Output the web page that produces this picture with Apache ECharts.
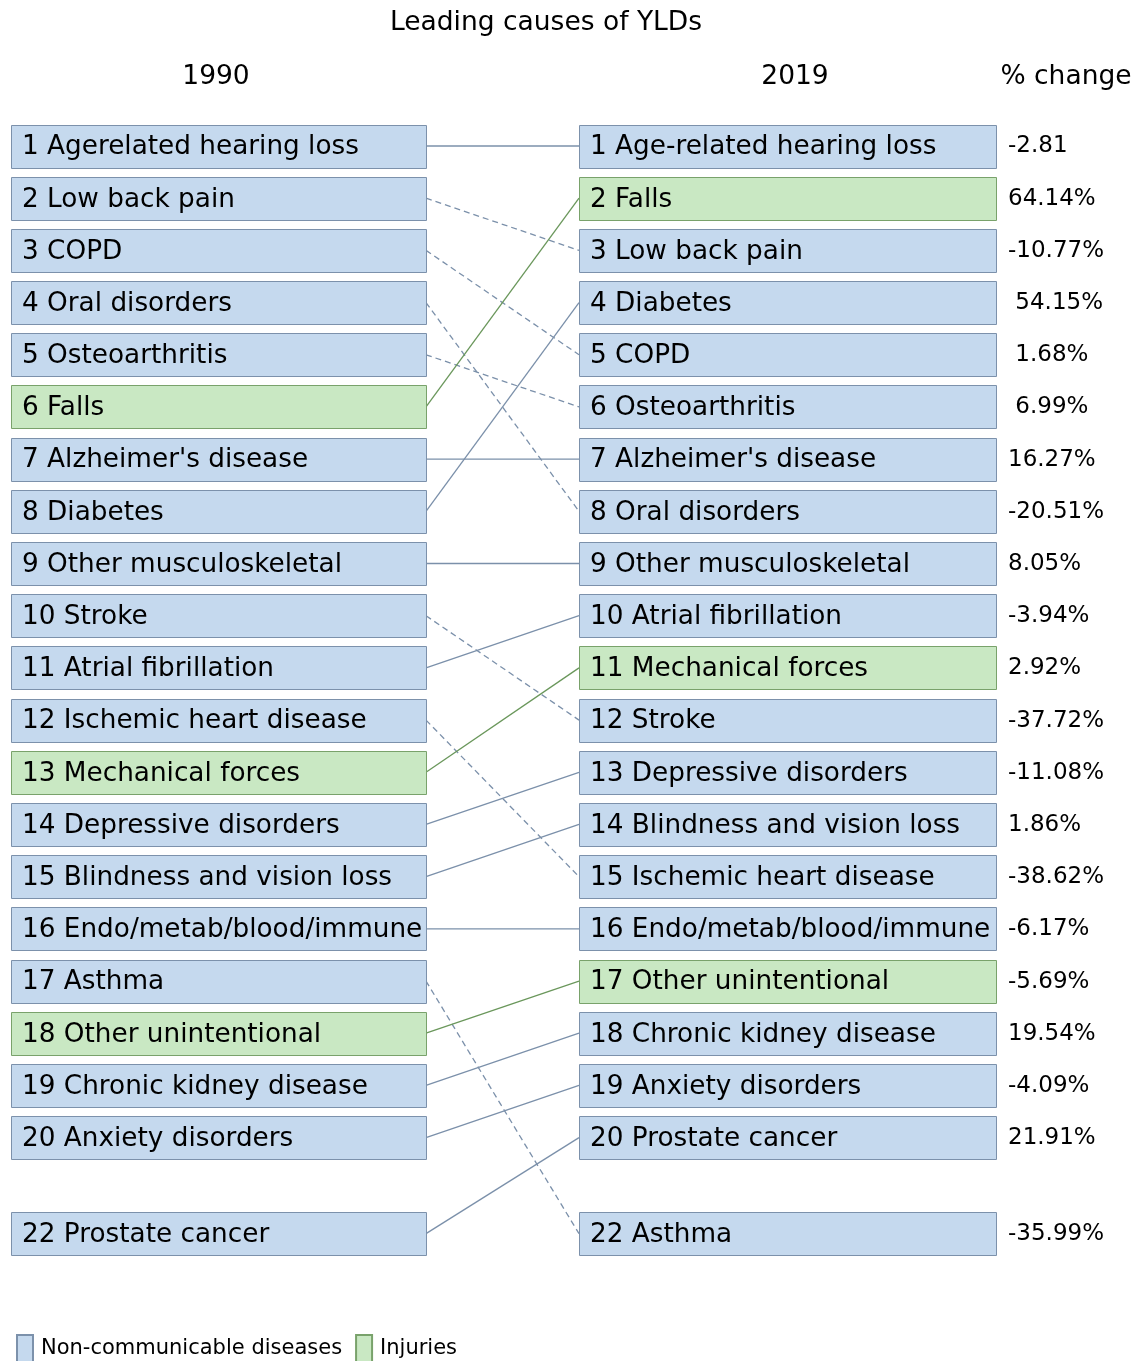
<!DOCTYPE html>
<html>
<head>
<meta charset="utf-8">
<script src="https://cdn.jsdelivr.net/npm/echarts@6/dist/echarts.min.js"></script>
<style>
  html, body { margin: 0; padding: 0; background: #fff; }
  #chart { width: 1148px; height: 1361px; }
</style>
</head>
<body>
<div id="chart"></div>
<script>
// ranking data, 1990 and 2019
const causes1990 = ['Agerelated hearing loss', 'Low back pain', 'COPD', 'Oral disorders', 'Osteoarthritis', 'Falls',
  "Alzheimer's disease", 'Diabetes', 'Other musculoskeletal', 'Stroke', 'Atrial fibrillation', 'Ischemic heart disease',
  'Mechanical forces', 'Depressive disorders', 'Blindness and vision loss', 'Endo/metab/blood/immune', 'Asthma',
  'Other unintentional', 'Chronic kidney disease', 'Anxiety disorders', 'Prostate cancer']
const ranks1990 = [1, 2, 3, 4, 5, 6, 7, 8, 9, 10, 11, 12, 13, 14, 15, 16, 17, 18, 19, 20, 22]

const causes2019 = ['Age-related hearing loss', 'Falls', 'Low back pain', 'Diabetes', 'COPD', 'Osteoarthritis',
  "Alzheimer's disease", 'Oral disorders', 'Other musculoskeletal', 'Atrial fibrillation', 'Mechanical forces', 'Stroke',
  'Depressive disorders', 'Blindness and vision loss', 'Ischemic heart disease', 'Endo/metab/blood/immune',
  'Other unintentional', 'Chronic kidney disease', 'Anxiety disorders', 'Prostate cancer', 'Asthma']
const ranks2019 = [1, 2, 3, 4, 5, 6, 7, 8, 9, 10, 11, 12, 13, 14, 15, 16, 17, 18, 19, 20, 22]
const pctChange = ['-2.81', '64.14%', '-10.77%', ' 54.15%', ' 1.68%', ' 6.99%', '16.27%', '-20.51%', '8.05%', '-3.94%',
  '2.92%', '-37.72%', '-11.08%', '1.86%', '-38.62%', '-6.17%', '-5.69%', '19.54%', '-4.09%', '21.91%', '-35.99%']

const injuries = ['Falls', 'Mechanical forces', 'Other unintentional']
const headers = ['1990', '2019', '% change']

// layout
const LEFT_X0 = 11, LEFT_X1 = 426
const RIGHT_X0 = 579, RIGHT_X1 = 996
const PCT_X = 1008
const BOX_H = 43
const FONT = 'DejaVu Sans'

const NCD = { fill: '#c5d9ee', stroke: '#7c91ab', line: '#7b90aa' }
const INJ = { fill: '#c9e8c3', stroke: '#79a26b', line: '#6a975b' }

const key = s => s.replace(/-/g, '').toLowerCase()
const isInjury = name => injuries.includes(name)
// rows past 20 sit a little closer than a full step
const slot = r => (r <= 20 ? r : 20 + (r - 20) * 0.92)

const boxes = { ncd: [], inj: [] }
causes1990.forEach((c, i) => {
  boxes[isInjury(c) ? 'inj' : 'ncd'].push({ value: [LEFT_X0, slot(ranks1990[i]), LEFT_X1], label: ranks1990[i] + ' ' + c })
})
causes2019.forEach((c, i) => {
  boxes[isInjury(c) ? 'inj' : 'ncd'].push({ value: [RIGHT_X0, slot(ranks2019[i]), RIGHT_X1], label: ranks2019[i] + ' ' + c, pct: pctChange[i] })
})

const links = causes1990.map((c, i) => {
  const j = causes2019.findIndex(d => key(d) === key(c))
  return {
    value: [LEFT_X1, slot(ranks1990[i]), RIGHT_X0, slot(ranks2019[j])],
    dashed: ranks2019[j] > ranks1990[i],
    injury: isInjury(c)
  }
})

function boxRenderer(pal, items) {
  return function (params, api) {
    const d = items[params.dataIndex]
    const p0 = api.coord([api.value(0), api.value(1)])
    const p1 = api.coord([api.value(2), api.value(1)])
    const children = [
      {
        type: 'rect',
        shape: { x: p0[0] + 0.5, y: Math.round(p0[1] - BOX_H / 2) + 0.5, width: p1[0] - p0[0], height: BOX_H },
        style: { fill: pal.fill, stroke: pal.stroke, lineWidth: 1 }
      },
      {
        type: 'text',
        style: { text: d.label, x: p0[0] + 11, y: p0[1] + 1.5, font: '26.3px ' + FONT, fill: '#000', verticalAlign: 'middle' }
      }
    ]
    if (d.pct !== undefined) {
      children.push({
        type: 'text',
        style: { text: d.pct, x: PCT_X, y: p0[1] + 0.5, font: '23px ' + FONT, fill: '#000', verticalAlign: 'middle' }
      })
    }
    return { type: 'group', children }
  }
}

const chart = echarts.init(document.getElementById('chart'), null, { renderer: 'canvas' })

const headStyle = { fontSize: 26.5, fontWeight: 'normal', color: '#000' }

chart.setOption({
  backgroundColor: '#fff',
  animation: false,
  textStyle: { fontFamily: FONT },
  title: [
    { text: 'Leading causes of YLDs', left: 541, textAlign: 'center', top: 5, textStyle: headStyle },
    { text: headers[0], left: 211, textAlign: 'center', top: 59, textStyle: headStyle },
    { text: headers[1], left: 790, textAlign: 'center', top: 59, textStyle: headStyle },
    { text: headers[2], left: 1061, textAlign: 'center', top: 59, textStyle: headStyle }
  ],
  legend: {
    left: 11,
    top: 1329,
    icon: 'rect',
    itemWidth: 16,
    itemHeight: 28,
    itemGap: 13,
    selectedMode: false,
    textStyle: { fontSize: 21, color: '#000', fontFamily: FONT, padding: [0, 0, 0, 3] },
    data: ['Non-communicable diseases', 'Injuries']
  },
  grid: { left: 0, right: 0, top: 146, bottom: 119 },
  xAxis: { type: 'value', min: 0, max: 1148, show: false },
  yAxis: { type: 'value', min: 1, max: 22, inverse: true, show: false },
  series: [
    {
      type: 'custom',
      name: 'links',
      silent: true,
      z: 1,
      renderItem: function (params, api) {
        const l = links[params.dataIndex]
        const a = api.coord([api.value(0), api.value(1)])
        const b = api.coord([api.value(2), api.value(3)])
        return {
          type: 'line',
          shape: { x1: a[0], y1: a[1], x2: b[0], y2: b[1] },
          style: {
            stroke: l.injury ? INJ.line : NCD.line,
            lineWidth: 1.3,
            lineDash: l.dashed ? [6, 4] : null
          }
        }
      },
      data: links.map(l => l.value)
    },
    {
      type: 'custom',
      name: 'Non-communicable diseases',
      z: 2,
      itemStyle: { color: NCD.fill, borderColor: NCD.stroke, borderWidth: 1 },
      renderItem: boxRenderer(NCD, boxes.ncd),
      data: boxes.ncd.map(b => b.value)
    },
    {
      type: 'custom',
      name: 'Injuries',
      z: 2,
      itemStyle: { color: INJ.fill, borderColor: INJ.stroke, borderWidth: 1 },
      renderItem: boxRenderer(INJ, boxes.inj),
      data: boxes.inj.map(b => b.value)
    }
  ]
})
</script>
</body>
</html>
